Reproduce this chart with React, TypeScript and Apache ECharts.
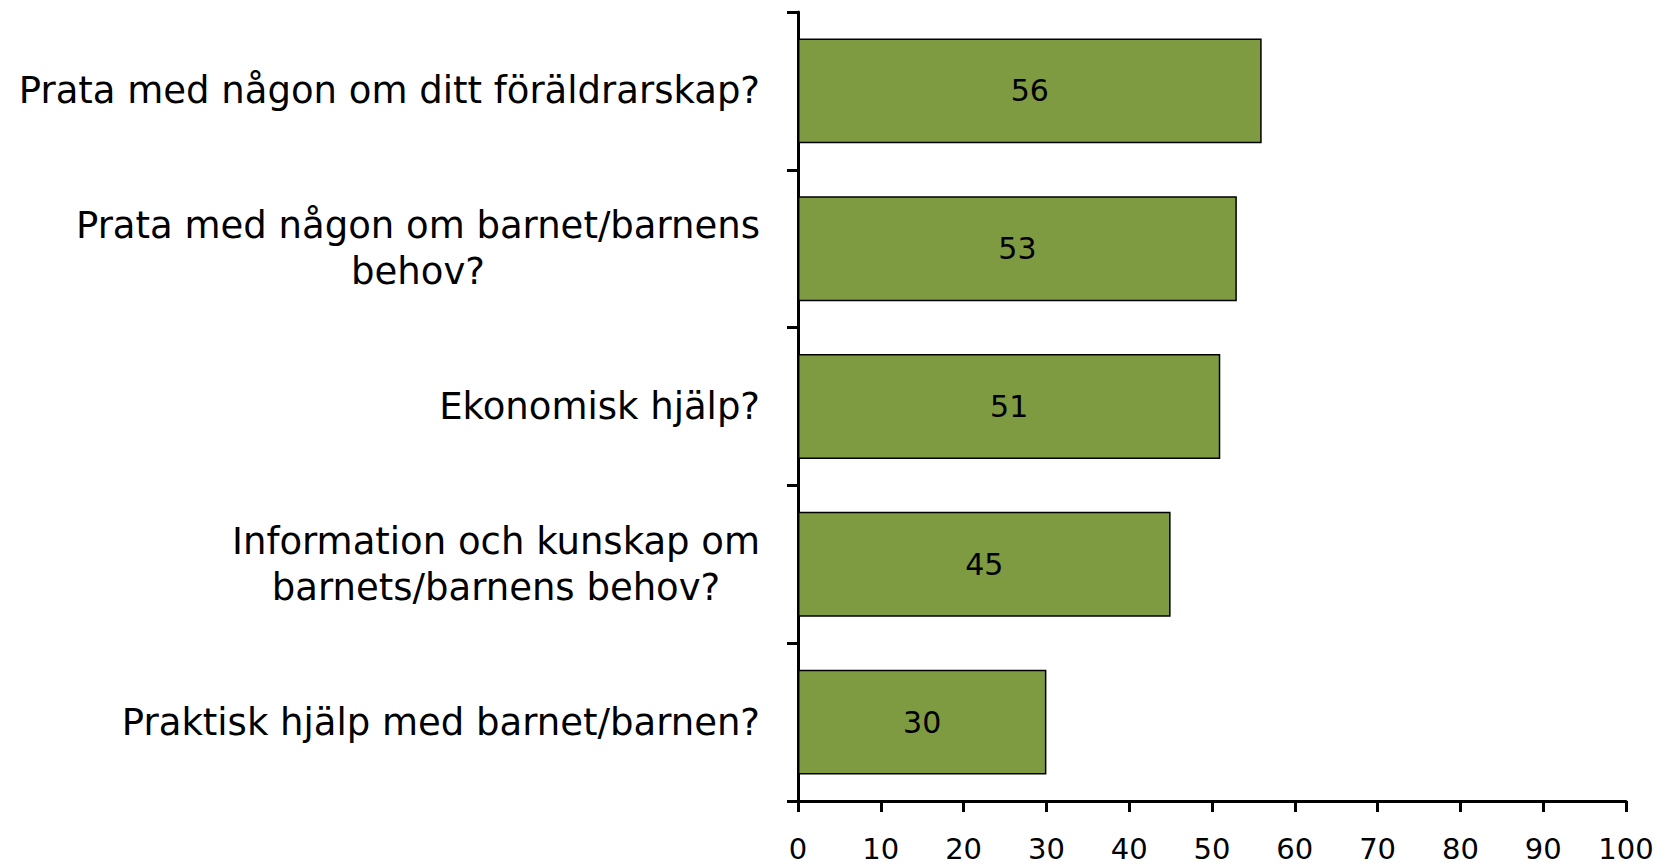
import React, { useEffect, useRef } from "react";
import * as echarts from "echarts";

const categories = [
  "Prata med någon om ditt föräldrarskap?",
  "Prata med någon om barnet/barnens\nbehov?",
  "Ekonomisk hjälp?",
  "Information och kunskap om\nbarnets/barnens behov?",
  "Praktisk hjälp med barnet/barnen?",
];
const values = [56, 53, 51, 45, 30];
const xTicks = { min: 0, max: 100, interval: 10 };

const FONT = "'DejaVu Sans', Verdana, sans-serif";

export default function App() {
  const ref = useRef<HTMLDivElement>(null);
  useEffect(() => {
    if (!ref.current) return;
    const chart = echarts.init(ref.current, undefined, { renderer: "svg" });
    chart.setOption({
      animation: false,
      backgroundColor: "#ffffff",
      grid: { left: 798, top: 12, width: 828, height: 789, containLabel: false },
      xAxis: {
        type: "value",
        min: xTicks.min,
        max: xTicks.max,
        interval: xTicks.interval,
        splitLine: { show: false },
        axisLine: { show: true, lineStyle: { color: "#000", width: 3 } },
        axisTick: { show: true, length: 11, lineStyle: { color: "#000", width: 3 } },
        axisLabel: {
          margin: 33,
          fontSize: 29,
          lineHeight: 30,
          fontFamily: FONT,
          color: "#000",
        },
      },
      yAxis: {
        type: "category",
        inverse: true,
        data: categories,
        axisLine: { show: true, lineStyle: { color: "#000", width: 3 } },
        axisTick: { show: true, length: 11, lineStyle: { color: "#000", width: 3 } },
        axisLabel: {
          margin: 38,
          align: "right",
          formatter: (v: string) =>
            v
              .split("\n")
              .map((l) => `{c|${l}}`)
              .join("\n"),
          rich: {
            c: {
              fontSize: 37,
              lineHeight: 46,
              fontFamily: FONT,
              color: "#000",
              align: "center",
            },
          },
        },
      },
      series: [
        {
          type: "bar",
          data: values,
          barCategoryGap: "33.5%",
          itemStyle: { color: "#7e9b42", borderColor: "#000", borderWidth: 1.5 },
          label: {
            show: true,
            position: "inside",
            color: "#000",
            fontSize: 30,
            fontFamily: FONT,
          },
        },
      ],
    });
    return () => chart.dispose();
  }, []);
  return (
    <div
      ref={ref}
      style={{ position: "fixed", left: 0, top: 0, width: 1668, height: 867, background: "#fff" }}
    />
  );
}
